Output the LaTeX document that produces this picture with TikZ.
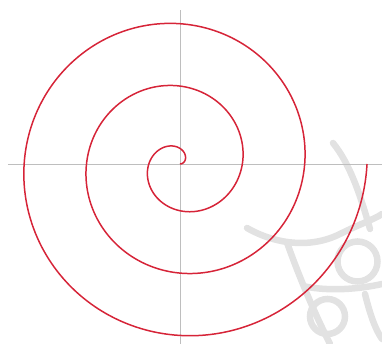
\documentclass[tikz,border=0pt]{standalone}
\usepackage{tikz}
\definecolor{spiralred}{RGB}{214,36,56}
\definecolor{axisgray}{RGB}{190,190,190}
\definecolor{markgray}{RGB}{226,226,226}

\begin{document}
\begin{tikzpicture}[
  axis/.style={draw=axisgray,line width=0.5pt},
  spiral/.style={draw=spiralred,line width=0.85pt},
  emblem/.style={draw=markgray,line width=0.13cm,line cap=round},
]
  \useasboundingbox (-3.6,-3.6) rectangle (4.04,3.28);

  % faint emblem in the lower right corner
  \draw[emblem] (3.06,0.42) .. controls (3.4,0) and (3.6,-0.6) .. (3.8,-1.3);
  \draw[emblem] (1.34,-1.28) .. controls (1.9,-1.6) and (2.6,-1.7) .. (3.2,-1.4)
    .. controls (3.6,-1.2) and (3.9,-1.1) .. (4.04,-1.0);
  \draw[emblem] (2.15,-1.6) .. controls (2.4,-2.3) and (2.7,-3.0) .. (3.0,-3.6);
  \draw[emblem] (3.55,-1.95) circle (0.4);
  \draw[emblem] (2.5,-2.45) .. controls (3.0,-2.55) and (3.6,-2.5) .. (4.04,-2.4);
  \draw[emblem] (2.95,-3.05) circle (0.35);
  \draw[emblem] (3.7,-2.6) .. controls (3.8,-3.0) and (3.9,-3.3) .. (4.04,-3.5);

  % axes
  \coordinate (O) at (0,0);
  \coordinate (xl) at (-3.44,0);
  \coordinate (xr) at (4.04,0);
  \coordinate (yt) at (0,3.08);
  \coordinate (yb) at (0,-3.6);
  \draw[axis] (xl) -- (xr);
  \draw[axis] (yb) -- (yt);

  % Archimedean spiral, three turns
  \draw[spiral] plot[domain=0:1080,samples=400,smooth,variable=\t]
    (\t:{0.00347*\t});
\end{tikzpicture}
\end{document}
